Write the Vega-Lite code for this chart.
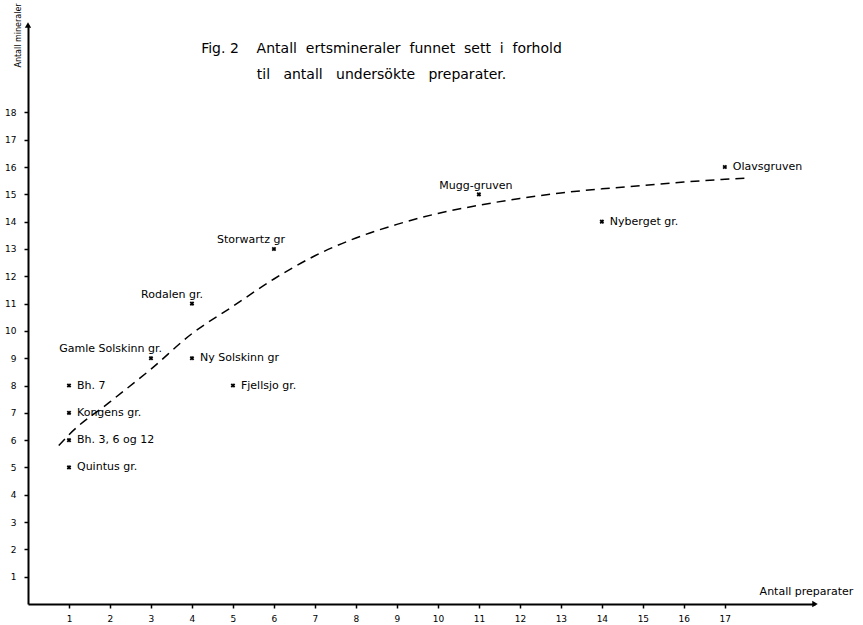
{
  "$schema": "https://vega.github.io/schema/vega-lite/v6.json",
  "width": 787,
  "height": 579,
  "autosize": {"type": "none"},
  "padding": {"left": 28, "top": 25, "right": 48, "bottom": 21},
  "background": "white",
  "title": {
    "text": "Fig. 2\u00a0\u00a0\u00a0\u00a0Antall\u00a0 ertsmineraler\u00a0 funnet\u00a0 sett\u00a0 i\u00a0 forhold",
    "subtitle": "til\u00a0\u00a0 antall\u00a0\u00a0 undersökte\u00a0\u00a0 preparater.",
    "anchor": "middle",
    "dx": -40,
    "offset": -79,
    "font": "DejaVu Sans",
    "fontSize": 14,
    "fontWeight": "normal",
    "subtitleFont": "DejaVu Sans",
    "subtitleFontSize": 14,
    "subtitleColor": "black",
    "subtitlePadding": 12,
    "color": "black"
  },
  "config": {
    "view": {"stroke": null},
    "font": "DejaVu Sans",
    "axis": {
      "grid": false,
      "domainColor": "black",
      "domainWidth": 2,
      "tickColor": "black",
      "tickWidth": 1.5,
      "tickSize": 4,
      "labelColor": "black",
      "labelFont": "DejaVu Sans",
      "labelFontSize": 9,
      "labelOverlap": false,
      "titleColor": "black",
      "titleFont": "DejaVu Sans",
      "titleFontWeight": "normal"
    }
  },
  "datasets": {
    "points": [
      {"x": 1, "y": 8, "name": "Bh. 7"},
      {"x": 1, "y": 7, "name": "Kongens gr."},
      {"x": 1, "y": 6, "name": "Bh. 3, 6 og 12"},
      {"x": 1, "y": 5, "name": "Quintus gr."},
      {"x": 3, "y": 9, "name": "Gamle Solskinn gr."},
      {"x": 4, "y": 9, "name": "Ny Solskinn gr"},
      {"x": 5, "y": 8, "name": "Fjellsjo gr."},
      {"x": 4, "y": 11, "name": "Rodalen gr."},
      {"x": 6, "y": 13, "name": "Storwartz gr"},
      {"x": 11, "y": 15, "name": "Mugg-gruven"},
      {"x": 14, "y": 14, "name": "Nyberget gr."},
      {"x": 17, "y": 16, "name": "Olavsgruven"}
    ],
    "curve": [
      {"x": 0.75, "y": 5.8},
      {"x": 1, "y": 6.2},
      {"x": 2, "y": 7.4},
      {"x": 3, "y": 8.6},
      {"x": 4, "y": 9.9},
      {"x": 5, "y": 10.9},
      {"x": 6, "y": 11.9},
      {"x": 7, "y": 12.75},
      {"x": 8, "y": 13.4},
      {"x": 9, "y": 13.9},
      {"x": 10, "y": 14.3},
      {"x": 11, "y": 14.6},
      {"x": 12, "y": 14.85},
      {"x": 13, "y": 15.05},
      {"x": 14, "y": 15.2},
      {"x": 15, "y": 15.32},
      {"x": 16, "y": 15.45},
      {"x": 17, "y": 15.55},
      {"x": 17.6, "y": 15.6}
    ],
    "arrows": [
      {"x": 19.2, "y": 0, "dir": "right"},
      {"x": 0, "y": 21.2, "dir": "up"}
    ]
  },
  "layer": [
    {
      "data": {"name": "curve"},
      "mark": {"type": "line", "interpolate": "monotone", "color": "black", "strokeWidth": 1.5, "strokeDash": [9, 6], "clip": false},
      "encoding": {
        "x": {
          "field": "x", "type": "quantitative",
          "scale": {"domain": [0, 19.2], "nice": false, "zero": true},
          "axis": {
            "values": [1,2,3,4,5,6,7,8,9,10,11,12,13,14,15,16,17],
            "labelOverlap": false,
            "title": "Antall preparater",
            "titleFontSize": 11,
            "titleX": 778,
            "titleY": -8,
            "titleAnchor": "middle",
            "titleAlign": "center",
            "titleBaseline": "bottom",
            "labelPadding": 6
          }
        },
        "y": {
          "field": "y", "type": "quantitative",
          "scale": {"domain": [0, 21.2], "nice": false, "zero": true},
          "axis": {
            "values": [1,2,3,4,5,6,7,8,9,10,11,12,13,14,15,16,17,18],
            "labelOverlap": false,
            "labelSeparation": 0,
            "tickCount": 18,
            "title": "Antall mineraler",
            "titleFontSize": 8,
            "titleX": -6,
            "titleY": 10,
            "titleAngle": -90,
            "titleAnchor": "middle",
            "titleAlign": "center",
            "titleBaseline": "bottom",
            "labelPadding": 8
          }
        }
      }
    },
    {
      "data": {"name": "arrows"},
      "mark": {"type": "point", "filled": true, "color": "black", "size": 40, "opacity": 1, "clip": false},
      "encoding": {
        "x": {"field": "x", "type": "quantitative"},
        "y": {"field": "y", "type": "quantitative"},
        "shape": {"field": "dir", "type": "nominal", "scale": {"domain": ["right", "up"], "range": ["triangle-right", "triangle-up"]}, "legend": null}
      }
    },
    {
      "data": {"name": "points"},
      "mark": {"type": "point", "shape": "cross", "angle": 45, "filled": true, "color": "black", "size": 22, "opacity": 1},
      "encoding": {
        "x": {"field": "x", "type": "quantitative"},
        "y": {"field": "y", "type": "quantitative"}
      }
    },
    {
      "data": {"name": "points"},
      "transform": [{"filter": {"not": {"field": "name", "oneOf": ["Gamle Solskinn gr.", "Rodalen gr.", "Storwartz gr", "Mugg-gruven"]}}}],
      "mark": {"type": "text", "align": "left", "baseline": "middle", "dx": 8, "fontSize": 11, "color": "black"},
      "encoding": {
        "x": {"field": "x", "type": "quantitative"},
        "y": {"field": "y", "type": "quantitative"},
        "text": {"field": "name"}
      }
    },
    {
      "data": {"name": "points"},
      "transform": [{"filter": {"field": "name", "oneOf": ["Gamle Solskinn gr.", "Rodalen gr.", "Storwartz gr"]}}],
      "mark": {"type": "text", "align": "right", "baseline": "middle", "dx": 11, "dy": -9, "fontSize": 11, "color": "black"},
      "encoding": {
        "x": {"field": "x", "type": "quantitative"},
        "y": {"field": "y", "type": "quantitative"},
        "text": {"field": "name"}
      }
    },
    {
      "data": {"name": "points"},
      "transform": [{"filter": {"field": "name", "oneOf": ["Mugg-gruven"]}}],
      "mark": {"type": "text", "align": "center", "baseline": "middle", "dx": -3, "dy": -8, "fontSize": 11, "color": "black"},
      "encoding": {
        "x": {"field": "x", "type": "quantitative"},
        "y": {"field": "y", "type": "quantitative"},
        "text": {"field": "name"}
      }
    }
  ]
}
